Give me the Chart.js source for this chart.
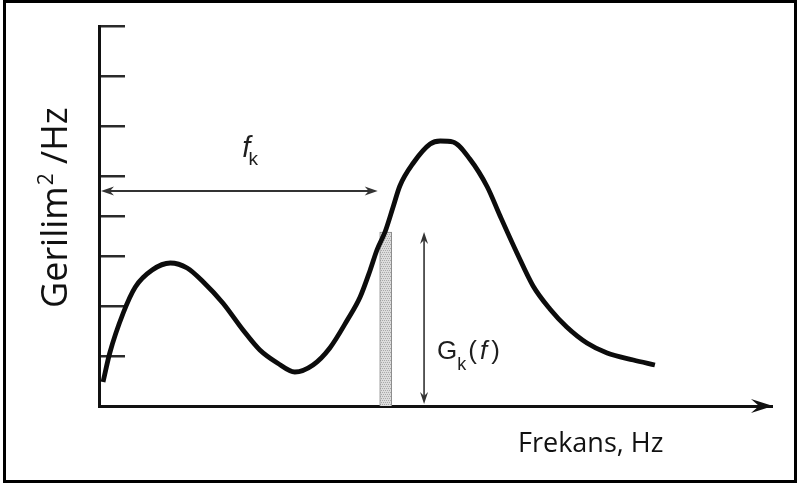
<!DOCTYPE html>
<html>
<head>
<meta charset="utf-8">
<script src="https://cdn.jsdelivr.net/npm/chart.js@4.4.1/dist/chart.umd.min.js"></script>
<style>
  html, body { margin: 0; padding: 0; background: #fff; }
  canvas { display: block; background: #fff; }
</style>
</head>
<body>
<canvas id="spectrum" width="798" height="484"></canvas>
<script>
// power spectral density curve (frequency, power)
const freq = [0.6, 1.6, 3.6, 5.4, 7.9, 10.6, 13.1, 15.5, 18.4, 21.4, 23.9, 26.5, 29.1, 31.8,
  34.3, 36.9, 38.8, 40.3, 41.3, 42.5, 43.7, 44.7, 46.7, 49.2, 50.7, 52.6, 55.1, 57.7,
  59.6, 62.1, 64.5, 67.0, 69.5, 72.5, 75.5, 79.4, 82.6];
const power = [0.48, 1.06, 1.86, 2.38, 2.72, 2.86, 2.76, 2.48, 2.06, 1.52, 1.12, 0.86, 0.68, 0.82,
  1.16, 1.72, 2.18, 2.72, 3.12, 3.48, 3.98, 4.40, 4.86, 5.24, 5.30, 5.28, 4.94, 4.38,
  3.80, 3.06, 2.40, 1.94, 1.58, 1.26, 1.06, 0.92, 0.82];
const yTicks = [1, 2, 3, 3.8, 4.6, 5.6, 6.6, 7.6];

// selected band f_k and its value G_k(f)
const fk = [42.6];
const gk = [3.48];
const fkArrowLevel = 4.3;   // height of the f_k dimension arrow
const gkArrowFreq = 48.3;   // where the G_k(f) dimension arrow stands

function hatch() {
  const c = document.createElement('canvas');
  c.width = 4; c.height = 4;
  const g = c.getContext('2d');
  g.fillStyle = '#dcdcdc';
  g.fillRect(0, 0, 4, 4);
  g.fillStyle = '#a8a8a8';
  g.fillRect(0, 0, 1, 1); g.fillRect(2, 0, 1, 1);
  g.fillRect(1, 2, 1, 1); g.fillRect(3, 2, 1, 1);
  return g.createPattern(c, 'repeat');
}

function head(ctx, x, y, angle, len, half, notch) {
  ctx.save();
  ctx.translate(x, y);
  ctx.rotate(angle);
  ctx.beginPath();
  ctx.moveTo(0, 0);
  ctx.lineTo(-len, -half);
  ctx.lineTo(-notch, 0);
  ctx.lineTo(-len, half);
  ctx.closePath();
  ctx.fill();
  ctx.restore();
}

// draws text pieces one after another: [text, font, dx, dy]
function pieces(ctx, x, y, parts) {
  let cx = x;
  parts.forEach(([t, font, dx, dy]) => {
    ctx.font = font;
    cx += dx || 0;
    ctx.fillText(t, cx, y + (dy || 0));
    cx += ctx.measureText(t).width;
  });
}

const sketch = {
  id: 'sketch',
  afterDraw(chart) {
    const { ctx, chartArea, scales: { x, y } } = chart;
    ctx.save();
    ctx.fillStyle = '#111';
    ctx.strokeStyle = '#111';

    // x axis arrow head
    head(ctx, chartArea.right + 1, y.getPixelForValue(0), 0, 22, 7, 14);

    // f_k dimension arrow
    const ay = y.getPixelForValue(fkArrowLevel);
    const ax0 = x.getPixelForValue(0) + 2;
    const ax1 = x.getPixelForValue(fk[0]) - 8;
    ctx.strokeStyle = '#333';
    ctx.fillStyle = '#333';
    ctx.lineWidth = 2;
    ctx.beginPath();
    ctx.moveTo(ax0 + 6, ay); ctx.lineTo(ax1 - 6, ay);
    ctx.stroke();
    head(ctx, ax0, ay, Math.PI, 13, 4.5, 9);
    head(ctx, ax1, ay, 0, 13, 4.5, 9);

    // G_k(f) dimension arrow
    const gx = x.getPixelForValue(gkArrowFreq);
    const gy0 = y.getPixelForValue(gk[0]);
    const gy1 = y.getPixelForValue(0) - 2;
    ctx.lineWidth = 1.6;
    ctx.beginPath();
    ctx.moveTo(gx, gy0 + 6); ctx.lineTo(gx, gy1 - 6);
    ctx.stroke();
    head(ctx, gx, gy0, -Math.PI / 2, 12, 4, 8);
    head(ctx, gx, gy1, Math.PI / 2, 12, 4, 8);

    // labels
    ctx.fillStyle = '#1e1e1e';
    ctx.textBaseline = 'alphabetic';
    ctx.textAlign = 'left';
    const mid = (ax0 + ax1) / 2;
    pieces(ctx, mid + 3, ay - 34, [
      ['f', 'italic 29px "Liberation Sans"'],
      ['k', '19px "Liberation Sans"', -2, 8]
    ]);
    pieces(ctx, gx + 13, y.getPixelForValue(0) - 47, [
      ['G', '26px "Liberation Sans"'],
      ['k', '18px "Liberation Sans"', 0, 11],
      ['(', '26px "Liberation Sans"', 2],
      ['f', 'italic 26px "Liberation Sans"', 3],
      [')', '26px "Liberation Sans"', 4]
    ]);

    ctx.fillStyle = '#111';
    pieces(ctx, 518, 452, [['Frekans, Hz', '27px "Open Sans"']]);

    ctx.save();
    ctx.translate(67, 308);
    ctx.rotate(-Math.PI / 2);
    pieces(ctx, 0, 0, [
      ['Gerilim', '36px "Open Sans"'],
      ['2', '21px "Open Sans"', 1, -14],
      [' /Hz', '36px "Open Sans"']
    ]);
    ctx.restore();

    // outer frame
    ctx.strokeStyle = '#000';
    ctx.lineWidth = 3;
    ctx.strokeRect(4.5, 1.5, 791, 480);
    ctx.restore();
  }
};

new Chart(document.getElementById('spectrum'), {
  type: 'line',
  data: {
    datasets: [
      {
        type: 'line',
        data: freq.map((f, i) => ({ x: f, y: power[i] })),
        borderColor: '#0c0c0c',
        borderWidth: 4.8,
        pointRadius: 0,
        cubicInterpolationMode: 'monotone',
        fill: false,
        order: 1
      },
      {
        type: 'bar',
        data: fk.map((f, i) => ({ x: f, y: gk[i] })),
        backgroundColor: hatch(),
        borderColor: '#8c8c8c',
        borderWidth: 1,
        barThickness: 12,
        order: 2
      }
    ]
  },
  options: {
    responsive: false,
    animation: false,
    events: [],
    layout: { padding: { left: 99, top: 26, right: 26, bottom: 78 } },
    plugins: { legend: { display: false }, tooltip: { enabled: false } },
    scales: {
      x: {
        type: 'linear',
        min: 0,
        max: 100,
        offset: false,
        ticks: { display: false },
        grid: { display: false },
        border: { display: true, color: '#111', width: 3 },
        afterFit: s => { s.height = 0; }
      },
      y: {
        type: 'linear',
        min: 0,
        max: 7.6,
        ticks: { display: false },
        grid: { drawOnChartArea: false, drawTicks: true, tickLength: -26, color: '#2a2a2a', lineWidth: 2.5 },
        border: { display: true, color: '#111', width: 3 },
        afterBuildTicks: s => { s.ticks = yTicks.map(v => ({ value: v })); },
        afterFit: s => { s.width = 0; }
      }
    }
  },
  plugins: [sketch]
});
</script>
</body>
</html>
